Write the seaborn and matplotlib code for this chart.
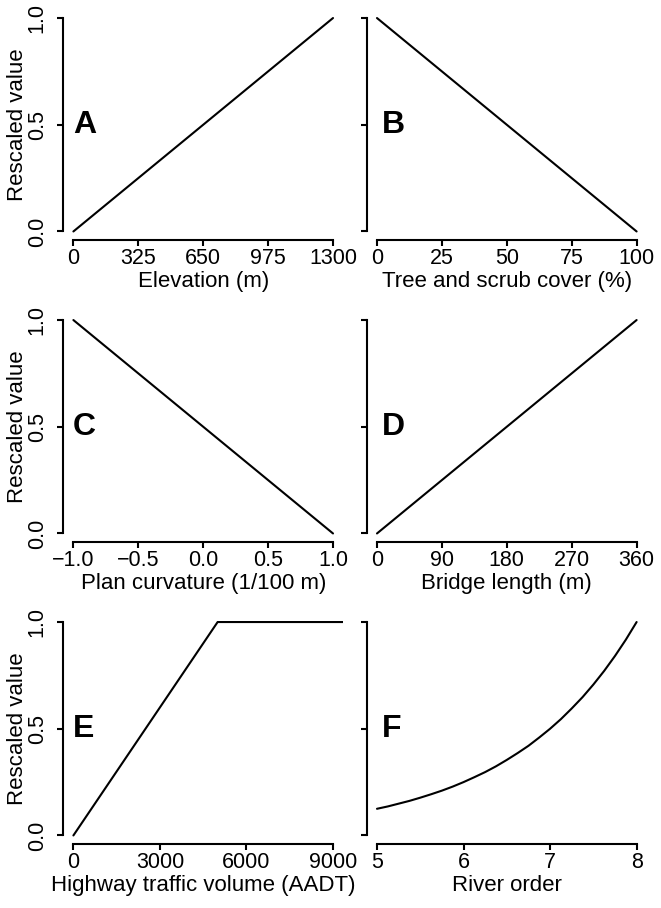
import numpy as np
import pandas as pd
import seaborn as sns
import matplotlib.pyplot as plt

sns.set_theme(style="ticks")
plt.rcParams['font.family'] = ['Liberation Sans', 'DejaVu Sans']
plt.rcParams['text.color'] = 'black'
plt.rcParams['axes.labelcolor'] = 'black'
plt.rcParams['xtick.color'] = 'black'
plt.rcParams['ytick.color'] = 'black'

# values
elev_x = [0, 1300]
elev_y = [0.0, 1.0]
tree_x = [0, 100]
tree_y = [1.0, 0.0]
curv_x = [-1.0, 1.0]
curv_y = [1.0, 0.0]
bridge_x = [0, 360]
bridge_y = [0.0, 1.0]
traffic_x = [0, 5000, 9360]
traffic_y = [0.0, 1.0, 1.0]
river_x = [5.0, 5.125, 5.25, 5.375, 5.5, 5.625, 5.75, 5.875, 6.0, 6.125, 6.25, 6.375, 6.5,
           6.625, 6.75, 6.875, 7.0, 7.125, 7.25, 7.375, 7.5, 7.625, 7.75, 7.875, 8.0]
river_y = [0.125, 0.136, 0.149, 0.162, 0.177, 0.193, 0.21, 0.229, 0.25, 0.273, 0.297, 0.324, 0.354,
           0.386, 0.42, 0.459, 0.5, 0.545, 0.595, 0.648, 0.707, 0.771, 0.841, 0.917, 1.0]

panels = [
    ("A", elev_x, elev_y, "Elevation (m)", [0, 325, 650, 975, 1300], ["0", "325", "650", "975", "1300"]),
    ("B", tree_x, tree_y, "Tree and scrub cover (%)", [0, 25, 50, 75, 100], ["0", "25", "50", "75", "100"]),
    ("C", curv_x, curv_y, "Plan curvature (1/100 m)", [-1.0, -0.5, 0.0, 0.5, 1.0],
     ["\u22121.0", "\u22120.5", "0.0", "0.5", "1.0"]),
    ("D", bridge_x, bridge_y, "Bridge length (m)", [0, 90, 180, 270, 360], ["0", "90", "180", "270", "360"]),
    ("E", traffic_x, traffic_y, "Highway traffic volume (AADT)", [0, 3000, 6000, 9000],
     ["0", "3000", "6000", "9000"]),
    ("F", river_x, river_y, "River order", [5, 6, 7, 8], ["5", "6", "7", "8"]),
]

W, H = 661, 908
fig = plt.figure(figsize=(W / 100, H / 100), dpi=100)

col_left = [63, 366.6]
row_top = [9.5, 311.5, 613.5]
box_w, box_h = 280.4, 230.5
letter_x = [0.035, 0.053]

for i, (letter, xs, ys, xlabel, xticks, xticklabels) in enumerate(panels):
    r, c = divmod(i, 2)
    x0 = col_left[c]
    y0 = row_top[r]
    ax = fig.add_axes([x0 / W, 1 - (y0 + box_h) / H, box_w / W, box_h / H])

    df = pd.DataFrame({"x": xs, "y": ys})
    sns.lineplot(data=df, x="x", y="y", ax=ax, color="black", linewidth=1.5, sort=False)

    lo, hi = xticks[0], xticks[-1]
    pad = 0.04 * (hi - lo)
    ax.set_xlim(lo - pad, hi + pad)
    ax.set_ylim(-0.04, 1.04)

    ax.set_xticks(xticks)
    ax.set_xticklabels(xticklabels)
    ax.set_yticks([0.0, 0.5, 1.0])
    if c == 0:
        ax.set_yticklabels(["0.0", "0.5", "1.0"], rotation=90, va="center")
        ax.set_ylabel("Rescaled value", fontsize=16)
        ax.yaxis.set_label_coords(-34.5 / box_w, 0.5)
    else:
        ax.set_yticklabels([])
        ax.set_ylabel("")
    ax.set_xlabel(xlabel, fontsize=16)
    ax.xaxis.set_label_coords(0.5, -31 / box_h)

    for s in ["top", "right"]:
        ax.spines[s].set_visible(False)
    ax.spines["left"].set_bounds(0, 1)
    ax.spines["bottom"].set_bounds(lo, hi)
    for s in ["left", "bottom"]:
        ax.spines[s].set_linewidth(1.5)
        ax.spines[s].set_color("black")
    ax.tick_params(axis="x", length=4, width=1.5, labelsize=15.5, pad=1.8)
    ax.tick_params(axis="y", length=4, width=1.5, labelsize=15.5, pad=7)
    ax.grid(False)

    ax.text(letter_x[c], 0.5, letter, transform=ax.get_yaxis_transform(), fontsize=23,
            fontweight="bold", ha="left", va="center")

fig.savefig("out.png", dpi=100, facecolor="white")
